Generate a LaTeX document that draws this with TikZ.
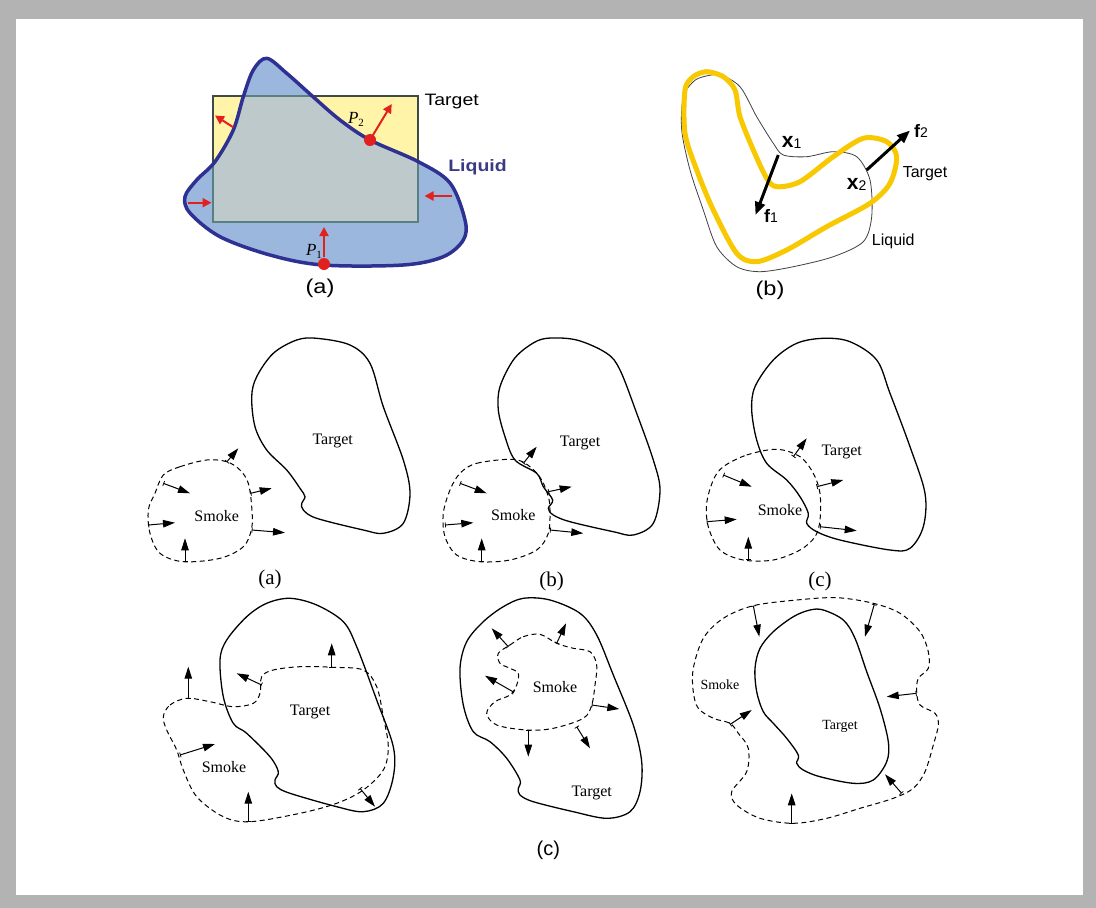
\documentclass[tikz,border=0pt]{standalone}
\usepackage{fontspec}
\setmainfont{Liberation Serif}
\newfontfamily\sansf{Liberation Sans}
\usetikzlibrary{arrows.meta}
\definecolor{framegray}{HTML}{B3B3B3}
\definecolor{rectyellow}{HTML}{FFF4A8}
\definecolor{rectedge}{HTML}{3E4A44}
\definecolor{liqblue}{HTML}{9BB7DE}
\definecolor{overlap}{HTML}{BDC9CB}
\definecolor{navy}{HTML}{2E3192}
\definecolor{liqtext}{HTML}{3A3A85}
\definecolor{arrred}{HTML}{E2211E}
\definecolor{tyellow}{HTML}{F8C800}
\newcommand{\hs}[1]{\scalebox{1.18}[1]{#1}}
\begin{document}
\begin{tikzpicture}[x=1pt,y=-1pt,
  tgt/.style={line width=1.3pt},
  smk/.style={line width=1pt,dash pattern=on 5pt off 3.5pt},
  varr/.style={line width=1pt,{Bar[width=5pt,line width=0.8pt]}-{Triangle[length=12pt,width=7.5pt]}},
  rarr/.style={draw=arrred,line width=2pt,-{Triangle[length=9pt,width=9pt]},color=arrred},
  barr/.style={line width=3pt,-{Triangle[length=13pt,width=10pt]}},
  lbl/.style={inner sep=0pt,font=\fontsize{16}{18}\selectfont},
  slbl/.style={inner sep=0pt,font=\fontsize{14}{16}\selectfont},
  rowcap/.style={inner sep=0pt,font=\fontsize{21}{23}\selectfont},
  scap/.style={inner sep=0pt,font=\sansf\fontsize{20}{22}\selectfont},
  stxt/.style={inner sep=0pt,font=\sansf\fontsize{16.5}{18}\selectfont},
  bx/.style={inner sep=0pt,font=\sansf\bfseries\fontsize{21}{22}\selectfont}
]
\useasboundingbox (0,0) rectangle (1096,908);
\fill[framegray] (0,0) rectangle (1096,908);
\fill[white] (16,19) rectangle (1083,895);

% ---------------- top (a) ----------------
\def\blobpath{plot[smooth cycle,tension=0.55] coordinates {(266.7,58.3) (286.7,73.3) (313,96.7) (340,120) (370,140) (418.3,161.7) (450,183) (465,220) (463.3,240) (443.3,256.7) (403,265) (323,265) (270,255) (220,236.7) (190,213) (185,196.7) (196.7,180) (215,161.7) (233.3,130) (243.3,96.7) (253.3,70)}}
\fill[rectyellow] (212.7,96) rectangle (418.3,221.7);
\fill[liqblue] \blobpath;
\begin{scope}
  \clip \blobpath;
  \fill[overlap] (212.7,96) rectangle (418.3,221.7);
\end{scope}
\draw[rectedge,line width=2pt] (212.7,96) rectangle (418.3,221.7);
\begin{scope}
  \clip \blobpath;
  \draw[color=gray!70!teal,line width=2pt] (212.7,96) rectangle (418.3,221.7);
\end{scope}
\draw[navy,line width=3.5pt] \blobpath;
\coordinate (p2) at (370,140);
\coordinate (p1) at (324,264);
\draw[rarr] (p2) -- (391.7,104);
\draw[rarr] (324,257) -- (324,227);
\draw[rarr] (233.3,127.3) -- (215,115.5);
\draw[rarr] (188.3,202.7) -- (211.5,202.7);
\draw[rarr] (451.7,196) -- (424.5,196);
\fill[arrred] (p2) circle (6);
\fill[arrred] (p1) circle (6);
\node[inner sep=0pt,font=\fontsize{17}{18}\selectfont] (lp2) at (356,119) {\textit{P}\raisebox{-3pt}{\fontsize{11}{11}\selectfont 2}};
\node[inner sep=0pt,font=\fontsize{17}{18}\selectfont] (lp1) at (314,251) {\textit{P}\raisebox{-3pt}{\fontsize{11}{11}\selectfont 1}};
\node[stxt] (ta) at (451.7,101.7) {\hs{Target}};
\node[stxt,font=\sansf\bfseries\fontsize{16.5}{18}\selectfont,text=liqtext] (la) at (477.5,167.7) {\hs{Liquid}};
\node[scap] (capa) at (320,288.5) {\hs{(a)}};

% ---------------- top (b) ----------------
\draw[black!75,line width=0.8pt] plot[smooth cycle,tension=0.5] coordinates {(703.3,76.7) (720,75) (740,86.7) (756.7,116.7) (773.3,143.3) (783.3,155) (806.7,156.7) (833.3,151.7) (856.7,156.7) (870,180) (871.7,216.7) (863.3,241.7) (833.3,256.7) (793.3,266.7) (760,271.7) (736.7,266.7) (716.7,246.7) (703.3,210) (690,170) (681.7,130) (683.3,96.7) (693.3,81.7)};
\draw[tyellow,line width=5pt] plot[smooth cycle,tension=0.5] coordinates {(706.7,71.7) (723.3,76.7) (735,90) (740,116.7) (753.3,150) (766.7,178.3) (776.7,186.7) (800,181.7) (833.3,156.7) (863.3,138.3) (886.7,141.7) (896.7,156.7) (890,183.3) (870,203.3) (826.7,226.7) (786.7,250) (756.7,261.7) (736.7,253.3) (713.3,210) (696.7,170) (685,133.3) (685,90) (693.3,76.7)};
\coordinate (x1) at (778.3,155);
\coordinate (x2) at (866.7,170);
\draw[barr] (x1) -- (755.5,215);
\draw[barr] (x2) -- (910,130.5);
\node[bx] (lx1) at (791.7,142) {x\raisebox{-1pt}{\sansf\mdseries\fontsize{14}{14}\selectfont 1}};
\node[bx] (lx2) at (856.7,184) {x\raisebox{-1pt}{\sansf\mdseries\fontsize{14}{14}\selectfont 2}};
\node[inner sep=0pt,font=\sansf\bfseries\fontsize{18}{20}\selectfont] (lf1) at (771,216) {f{\mdseries\fontsize{14}{14}\selectfont 1}};
\node[inner sep=0pt,font=\sansf\bfseries\fontsize{18}{20}\selectfont] (lf2) at (921,130.5) {f{\mdseries\fontsize{14}{14}\selectfont 2}};
\node[stxt,font=\sansf\fontsize{16}{18}\selectfont] (tb) at (925,173.3) {Target};
\node[stxt,font=\sansf\fontsize{16}{18}\selectfont] (lb) at (893.3,241.7) {Liquid};
\node[scap] (capb) at (770,290) {\hs{(b)}};

% ---------------- row 1 (a) ----------------
\draw[tgt] plot[smooth cycle,tension=0.55] coordinates {(316.7,338.3) (350,345) (370,363.3) (383.3,406.7) (403.3,460) (410,493.3) (403.3,523.3) (383.3,533.3) (363.3,530) (316.7,518.3) (303.3,510) (301.7,503.3) (305,496.7) (300,488.3) (286.7,470) (266.7,450) (255,426.7) (251.7,396.7) (256.7,376.7) (273.3,353.3) (296.7,340)};
\draw[smk] plot[smooth cycle,tension=0.55] coordinates {(163.3,475) (180,466.7) (206.7,460) (226.7,461.7) (240,470) (248.3,483.3) (251.7,506.7) (251.7,528.3) (243.3,546.7) (220,558.3) (183.3,561.7) (160,553.3) (150,533.3) (148.3,510) (155,493.3)};
\draw[varr] (226.7,462) -- (238.3,448.3);
\draw[varr] (163.3,483.3) -- (190,493.3);
\draw[varr] (250.5,493.3) -- (271.7,488.3);
\draw[varr] (148.3,525) -- (175,522.7);
\draw[varr] (185,561.7) -- (185,538.3);
\draw[varr] (251.7,530) -- (285,532.7);
\node[lbl] (t1a) at (332.7,440.7) {Target};
\node[lbl] (s1a) at (216.7,516) {Smoke};
\node[rowcap] (c1a) at (270,579) {(a)};

% ---------------- row 1 (b) ----------------
\draw[tgt] plot[smooth cycle,tension=0.55] coordinates {(546.7,338.3) (576.7,340) (606.7,353.3) (620,370) (636.7,413.3) (653.3,460) (660,490) (653.3,523.3) (633.3,535) (613.3,531.7) (570,521.7) (553.3,515) (548.3,508.3) (552.7,500) (543.3,486.7) (536.7,473.3) (515,460) (505,436.7) (498.3,410) (500,386.7) (513.3,360) (530,345)};
\draw[smk] plot[smooth cycle,tension=0.55] coordinates {(460,473.3) (476.7,463.3) (513.3,459.3) (530,466.7) (541.7,480) (548.3,496.7) (550,510) (548.3,533.3) (536.7,550) (510,560) (480,561.7) (456.7,555) (445,536.7) (443.3,513.3) (450,490)};
\draw[varr] (523.3,463.3) -- (536.7,446.7);
\draw[varr] (460,483.3) -- (486.7,493.3);
\draw[varr] (548.3,491.7) -- (571.7,486.7);
\draw[varr] (445,525) -- (473.3,522.7);
\draw[varr] (481.7,561.7) -- (481.7,538.3);
\draw[varr] (550,530) -- (583.3,533.3);
\node[lbl] (t1b) at (580,442.7) {Target};
\node[lbl] (s1b) at (513.3,515) {Smoke};
\node[rowcap] (c1b) at (551.7,581) {(b)};

% ---------------- row 1 (c) ----------------
\draw[tgt] plot[smooth cycle,tension=0.55] coordinates {(823.3,338.3) (850,341.7) (876.7,360) (890,393.3) (910,446.7) (925,493.3) (923.3,526.7) (910,548.3) (890,550) (840,540) (816.7,531.7) (806.7,523.3) (808.3,513.3) (800,496.7) (786.7,480) (766.7,463.3) (756.7,440) (751.7,410) (755,386.7) (773.3,360) (796.7,343.3)};
\draw[smk] plot[smooth cycle,tension=0.55] coordinates {(723.3,466.7) (746.7,455) (776.7,449.3) (800,456.7) (813.3,473.3) (820,493.3) (820,520) (815,536.7) (800,550) (773.3,560) (743.3,560) (720,550) (708.3,526.7) (706.7,503.3) (713.3,480)};
\draw[varr] (793.3,456.7) -- (806.7,438.3);
\draw[varr] (723.3,475) -- (751.7,486.7);
\draw[varr] (816.7,486.7) -- (843.3,480);
\draw[varr] (706.7,521.7) -- (736.7,519.3);
\draw[varr] (748.3,560) -- (748.3,536.7);
\draw[varr] (820,526.7) -- (856.7,530.7);
\node[lbl] (t1c) at (841.7,451.7) {Target};
\node[lbl] (s1c) at (780,510) {Smoke};
\node[rowcap] (c1c) at (820,581) {(c)};

% ---------------- row 2 (a) ----------------
\draw[tgt] plot[smooth cycle,tension=0.55] coordinates {(290,598.3) (316.7,605) (343.3,621.7) (356.7,646.7) (376.7,700) (393.3,746.7) (393.3,776.7) (383.3,803.3) (363.3,811.7) (336.7,806.7) (290,793.3) (276.7,786.7) (275,780) (278.3,771.7) (270,756.7) (246.7,733.3) (233.3,723.3) (223.3,696.7) (220,660) (226.7,640) (246.7,616.7) (266.7,603.3)};
\draw[smk] plot[smooth cycle,tension=0.55] coordinates {(163.3,716.7) (170,705) (186.7,698.3) (210,701.7) (233.3,706.7) (253.3,703.3) (260,693.3) (261.7,676.7) (273.3,670) (300,666.7) (333.3,667.3) (363.3,670) (376.7,686.7) (383.3,716.7) (388.3,746.7) (383.3,770) (363.3,790) (336.7,803.3) (300,813.3) (250,821.7) (223.3,816.7) (196.7,796.7) (183.3,770) (176.7,750) (166.7,730)};
\draw[varr] (188.3,698.5) -- (188.3,666.7);
\draw[varr] (331.7,667.5) -- (331.7,643.3);
\draw[varr] (261.7,685) -- (236.7,673.3);
\draw[varr] (180,755) -- (215,744);
\draw[varr] (248.3,821.7) -- (248.3,791.7);
\draw[varr] (360,788.3) -- (375,806.7);
\node[lbl] (t2a) at (310,711.7) {Target};
\node[lbl] (s2a) at (224,766.7) {Smoke};

% ---------------- row 2 (b) ----------------
\draw[tgt] plot[smooth cycle,tension=0.55] coordinates {(523.3,598.3) (550,600) (580,613.3) (596.7,635) (613.3,675) (633.3,725) (641.7,761.7) (640,791.7) (630,811.7) (606.7,818.3) (573.3,811.7) (533.3,801.7) (520,795) (518.3,788.3) (520,780) (506.7,758.3) (490,741.7) (473.3,731.7) (463.3,705) (460,668.3) (466.7,641.7) (483.3,621.7) (503.3,606.7)};
\draw[smk] plot[smooth cycle,tension=0.55] coordinates {(510,645) (523.3,636.7) (540,634.3) (556.7,643.3) (573.3,648.3) (590,651.7) (596.7,665) (595,685) (591.7,705) (583.3,718.3) (553.3,728.3) (526.7,730) (496.7,725) (486.7,713.3) (495,701.7) (510,695) (516.7,685) (518.3,673.3) (510,668.3) (500,663.3) (498.3,653.3)};
\draw[varr] (508.3,646.7) -- (491.7,628.3);
\draw[varr] (556.7,643.3) -- (566,623.3);
\draw[varr] (514,692.3) -- (485,675.7);
\draw[varr] (591.7,705) -- (619.3,709);
\draw[varr] (528.3,730) -- (528.3,756.7);
\draw[varr] (576.7,726.7) -- (590,748.3);
\node[lbl] (s2b) at (555,686.7) {Smoke};
\node[lbl] (t2b) at (591.7,793.3) {Target};

% ---------------- row 2 (c) ----------------
\draw[tgt] plot[smooth cycle,tension=0.55] coordinates {(823.3,610) (843.3,620) (855,638.3) (866.7,671.7) (880,708.3) (888.3,741.7) (886.7,761.7) (873.3,780) (853.3,783.3) (820,776.7) (803.3,770) (796.7,763.3) (798.3,755) (786.7,738.3) (773.3,723.3) (763.3,711.7) (756.7,691.7) (755,668.3) (760,648.3) (773.3,631.7) (793.3,616.7) (810,610)};
\draw[smk] plot[smooth cycle,tension=0.55] coordinates {(753.3,605.7) (796.7,600) (836.7,597.7) (873.3,603.3) (900,613.3) (920,631.7) (928.3,651.7) (928.3,668.3) (918.3,678.3) (916.7,691.7) (920,705) (935,713.3) (938.3,725) (933.3,745) (925,771.7) (913.3,788.3) (893.3,798.3) (860,808.3) (826.7,818.3) (793.3,823.3) (760,818.3) (736.7,805) (731.7,791.7) (746.7,771.7) (748.3,748.3) (738.3,733.3) (730,723.3) (713.3,718.3) (698.3,708.3) (693.3,691.7) (693.3,668.3) (703.3,638.3) (723.3,618.3)};
\draw[varr] (753.3,605.7) -- (759.3,636.7);
\draw[varr] (874.3,604.3) -- (865,636.7);
\draw[varr] (916.5,693.3) -- (886.7,696.7);
\draw[varr] (730,724.5) -- (751.7,710);
\draw[varr] (791.7,823.3) -- (791.7,793.3);
\draw[varr] (901.7,793.3) -- (885,774.3);
\node[slbl] (s2c) at (720,684.3) {Smoke};
\node[slbl] (t2c) at (840,726.7) {Target};

\node[scap] (c2) at (548.3,850) {(c)};
\end{tikzpicture}
\end{document}
